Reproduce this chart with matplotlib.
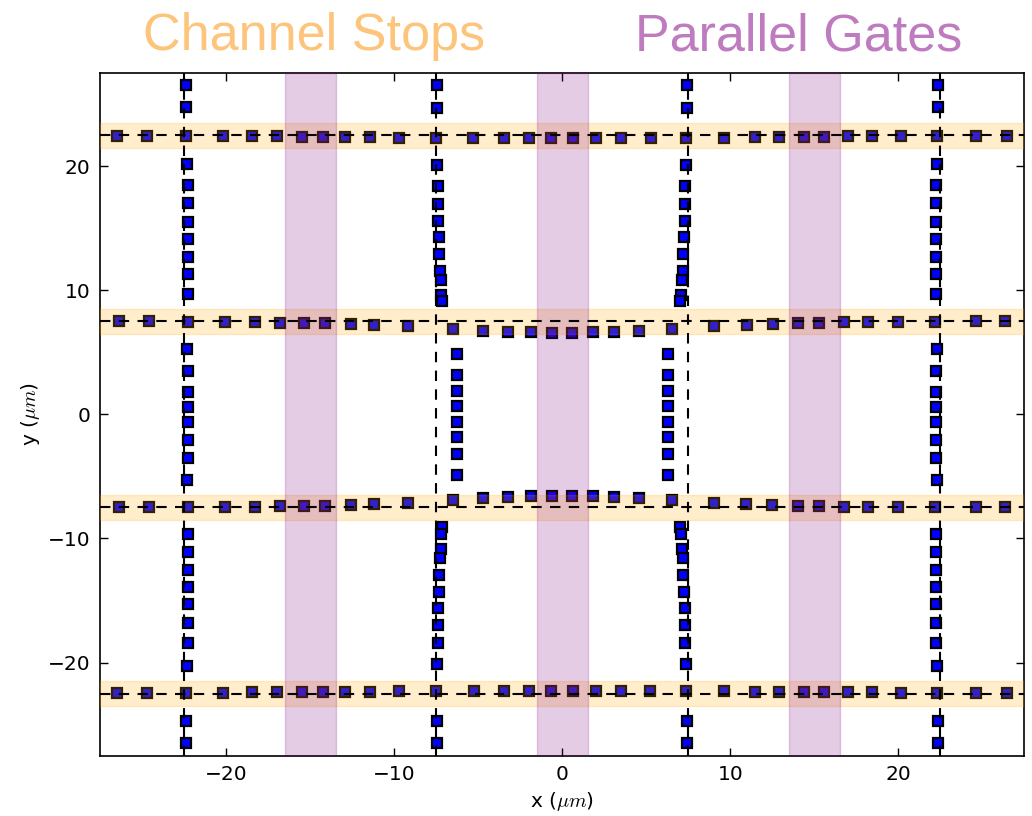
# сетка границ пикселей: channel stops и parallel gates

import numpy as np
import matplotlib
matplotlib.use('Agg')
import matplotlib.pyplot as plt

plt.rcParams['mathtext.fontset'] = 'cm'

# положения границ и затворов
stop_y = [-22.5, -7.5, 7.5, 22.5]
line_x = [-22.5, -7.5, 7.5, 22.5]
gate_x = [-15.0, 0.0, 15.0]

# горизонтальные ряды точек
top_x = [-26.5, -24.7, -22.4, -20.2, -18.5, -17.0, -15.5, -14.25, -12.95, -11.45, -9.75,
         -7.5, -5.3, -3.5, -2.0, -0.7, 0.65, 2.0, 3.5, 5.25,
         7.35, 9.6, 11.45, 12.9, 14.35, 15.55, 17.0, 18.4, 20.15, 22.3, 24.6, 26.45]
top_y = [22.45, 22.45, 22.42, 22.42, 22.4, 22.4, 22.38, 22.38, 22.36, 22.33, 22.3,
         22.28, 22.28, 22.26, 22.25, 22.25, 22.25, 22.25, 22.26, 22.28,
         22.28, 22.3, 22.33, 22.36, 22.38, 22.38, 22.4, 22.4, 22.42, 22.42, 22.45, 22.45]

bot_x = [-26.5, -24.7, -22.4, -20.2, -18.5, -17.0, -15.5, -14.25, -12.95, -11.45, -9.7,
         -7.5, -5.25, -3.5, -2.0, -0.7, 0.65, 2.0, 3.5, 5.2,
         7.35, 9.6, 11.45, 12.9, 14.35, 15.55, 17.0, 18.4, 20.15, 22.3, 24.6, 26.45]
bot_y = [-22.45, -22.45, -22.42, -22.42, -22.4, -22.4, -22.38, -22.38, -22.36, -22.33, -22.3,
         -22.28, -22.28, -22.26, -22.25, -22.25, -22.25, -22.25, -22.26, -22.28,
         -22.28, -22.3, -22.33, -22.36, -22.38, -22.38, -22.4, -22.4, -22.42, -22.42, -22.45, -22.45]

mid_top_x = [-26.4, -24.6, -22.3, -20.1, -18.3, -16.8, -15.4, -14.1, -12.6, -11.2, -9.2,
             -6.5, -4.7, -3.25, -1.85, -0.6, 0.55, 1.8, 3.05, 4.55, 6.5,
             9.0, 11.0, 12.55, 14.0, 15.3, 16.75, 18.2, 20.0, 22.2, 24.6, 26.35]
mid_top_y = [7.5, 7.5, 7.44, 7.44, 7.44, 7.38, 7.35, 7.35, 7.29, 7.23, 7.14,
             6.9, 6.72, 6.65, 6.6, 6.58, 6.58, 6.6, 6.65, 6.72, 6.9,
             7.14, 7.23, 7.29, 7.35, 7.38, 7.44, 7.44, 7.47, 7.44, 7.5, 7.5]

mid_bot_x = [-26.4, -24.6, -22.3, -20.1, -18.3, -16.8, -15.4, -14.1, -12.6, -11.2, -9.2,
             -6.5, -4.7, -3.25, -1.85, -0.6, 0.55, 1.8, 3.05, 4.55, 6.5,
             9.0, 10.95, 12.5, 14.0, 15.3, 16.75, 18.2, 20.0, 22.2, 24.6, 26.35]
mid_bot_y = [-7.5, -7.5, -7.44, -7.44, -7.44, -7.38, -7.35, -7.35, -7.29, -7.23, -7.14,
             -6.9, -6.72, -6.65, -6.6, -6.58, -6.58, -6.6, -6.65, -6.72, -6.9,
             -7.14, -7.23, -7.29, -7.35, -7.38, -7.44, -7.44, -7.47, -7.44, -7.5, -7.5]

# вертикальные столбцы точек
outer_y = [26.5, 24.8, 20.2, 18.5, 17.05, 15.5, 14.1, 12.7, 11.3, 9.7,
           5.3, 3.5, 1.8, 0.6, -0.65, -2.1, -3.5, -5.25,
           -9.6, -11.1, -12.5, -13.9, -15.3, -16.8, -18.4, -20.3, -24.7, -26.5]
outer_left_x = [-22.4, -22.4, -22.32, -22.3, -22.3, -22.3, -22.28, -22.3, -22.3, -22.28,
                -22.32, -22.3, -22.3, -22.3, -22.3, -22.3, -22.3, -22.32,
                -22.28, -22.3, -22.3, -22.3, -22.28, -22.3, -22.3, -22.32, -22.4, -22.4]
outer_right_x = [22.35, 22.35, 22.28, 22.26, 22.26, 22.26, 22.25, 22.26, 22.26, 22.25,
                 22.28, 22.26, 22.26, 22.26, 22.26, 22.26, 22.26, 22.28,
                 22.25, 22.26, 22.26, 22.26, 22.25, 22.26, 22.26, 22.28, 22.35, 22.35]

inner_y = [26.5, 24.7, 20.1, 18.4, 16.95, 15.6, 14.3, 12.95, 11.55, 10.85, 9.65, 9.1,
           -9.1, -9.65, -10.85, -11.55, -12.95, -14.3, -15.6, -16.95, -18.4, -20.1, -24.7, -26.5]
inner_left_x = [-7.45, -7.45, -7.45, -7.42, -7.4, -7.38, -7.35, -7.32, -7.28, -7.25, -7.2, -7.15,
                -7.15, -7.2, -7.25, -7.28, -7.32, -7.35, -7.38, -7.4, -7.42, -7.45, -7.45, -7.45]
inner_right_x = [7.4, 7.4, 7.36, 7.32, 7.3, 7.27, 7.24, 7.2, 7.15, 7.1, 7.05, 6.97,
                 6.97, 7.05, 7.1, 7.15, 7.2, 7.24, 7.27, 7.3, 7.32, 7.36, 7.4, 7.4]

center_y = [4.85, 3.2, 1.85, 0.65, -0.65, -1.85, -3.2, -4.85]
center_left_x = [-6.3, -6.3, -6.3, -6.3, -6.3, -6.3, -6.3, -6.3]
center_right_x = [6.3, 6.3, 6.3, 6.3, 6.3, 6.3, 6.3, 6.3]

fig = plt.figure(figsize=(10.32, 8.16), dpi=100)
ax = fig.add_axes([0.0972, 0.0739, 0.8955, 0.8366])

pts = [(top_x, top_y), (bot_x, bot_y), (mid_top_x, mid_top_y), (mid_bot_x, mid_bot_y),
       (outer_left_x, outer_y), (outer_right_x, outer_y),
       (inner_left_x, inner_y), (inner_right_x, inner_y),
       (center_left_x, center_y), (center_right_x, center_y)]
for px, py in pts:
    ax.plot(px, py, 's', color='blue', markeredgecolor='black',
            markersize=6.8, markeredgewidth=1.6, zorder=2)

for yc in stop_y:
    ax.axhspan(yc - 1, yc + 1, color='orange', alpha=0.2, zorder=3)
for xc in gate_x:
    ax.axvspan(xc - 1.5, xc + 1.5, color='purple', alpha=0.2, zorder=3)

for yc in stop_y:
    ax.axhline(yc, color='black', ls='--', lw=1.5, dashes=(5, 4), zorder=4)
for xc in line_x:
    ax.axvline(xc, color='black', ls='--', lw=1.5, dashes=(5, 4), zorder=4)

ax.set_xlim(-27.5, 27.5)
ax.set_ylim(-27.5, 27.5)
ax.set_xticks([-20, -10, 0, 10, 20])
ax.set_yticks([-20, -10, 0, 10, 20])
ax.tick_params(direction='in', top=True, right=True, length=6, width=1,
               labelsize=14.5, pad=7)
for sp in ax.spines.values():
    sp.set_linewidth(1.2)
ax.set_xlabel(r'x ($\mu m$)', fontsize=14.5)
ax.set_ylabel(r'y ($\mu m$)', fontsize=14.5)

fig.text(0.3043, 0.9387, 'Channel Stops', color='#fdc47c',
         fontsize=37.5, family='Liberation Sans', ha='center', va='baseline')
fig.text(0.7742, 0.9387, 'Parallel Gates', color='#bf7bbf',
         fontsize=37.5, family='Liberation Sans', ha='center', va='baseline')

fig.savefig('out.png', dpi=100)
